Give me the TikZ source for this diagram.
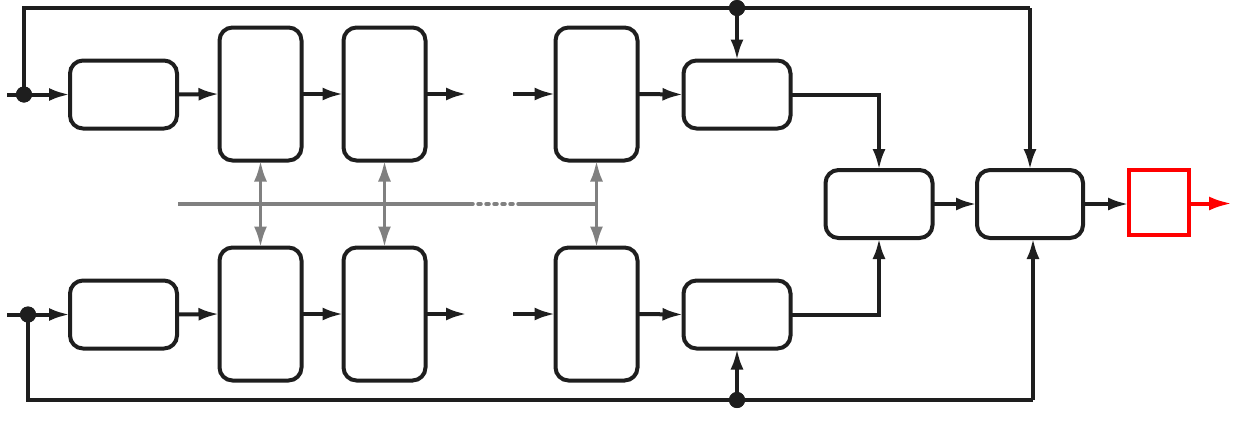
\documentclass[tikz,border=0pt]{standalone}
\usetikzlibrary{arrows.meta}
\definecolor{ink}{RGB}{30,30,30}
\definecolor{grayline}{RGB}{128,128,128}
\tikzset{
  bx/.style={draw=ink, line width=4pt, rounded corners=13pt, inner sep=0pt, outer sep=0pt, fill=white},
  shortbox/.style={bx, minimum width=107pt, minimum height=68pt},
  tallbox/.style={bx, minimum width=82pt, minimum height=133pt},
  redbox/.style={draw=red, line width=4pt, inner sep=0pt, outer sep=0pt, minimum width=60pt, minimum height=65pt},
  ln/.style={draw=ink, line width=4pt},
  arr/.style={ln, -{Latex[length=21pt,width=13pt]}},
  garr/.style={draw=grayline, line width=3.5pt, {Latex[length=21pt,width=13pt]}-{Latex[length=21pt,width=13pt]}},
  gln/.style={draw=grayline, line width=3.5pt},
  gdots/.style={draw=grayline, line width=3.5pt, line cap=round, dash pattern=on 3pt off 5pt},
  rarr/.style={draw=red, line width=4pt, -{Latex[length=23pt,width=14pt]}},
  jdot/.style={circle, fill=ink, inner sep=0pt, minimum size=16pt},
}
\begin{document}
\begin{tikzpicture}[x=1pt,y=-1pt]
\useasboundingbox (0,0) rectangle (1241,421);
% top row
\node[shortbox] (A1) at (123.5,94.5) {};
\node[tallbox]  (B1) at (260.5,94) {};
\node[tallbox]  (C1) at (384.5,94) {};
\node[tallbox]  (D1) at (596.5,94) {};
\node[shortbox] (E1) at (737,94.5) {};
% bottom row
\node[shortbox] (A2) at (123.5,314.5) {};
\node[tallbox]  (B2) at (260.5,314) {};
\node[tallbox]  (C2) at (384.5,314) {};
\node[tallbox]  (D2) at (596.5,314) {};
\node[shortbox] (E2) at (737,314.5) {};
% combiners
\node[shortbox] (F) at (879,204) {};
\node[shortbox, minimum width=106pt] (G) at (1030,204) {};
\node[redbox] (R) at (1159,202.5) {};
% coordinates
\coordinate (in1) at (7,94.5);
\coordinate (in2) at (7,314.5);
\coordinate (tl) at (24,8);
\coordinate (tr) at (1030,8);
\coordinate (bl) at (28,400);
\coordinate (br) at (1033,400);
\coordinate (c1o) at (467,94);
\coordinate (d1i) at (513,94);
\coordinate (c2o) at (467,314);
\coordinate (d2i) at (513,314);
\coordinate (out) at (1232,203.5);
\coordinate (gl) at (178,204);
\coordinate (g1) at (470,204);
\coordinate (g2) at (518,204);
\coordinate (gr) at (596.5,204);
% top chain
\draw[arr] (in1) -- (A1.west);
\draw[arr] (A1.east) -- (B1.west);
\draw[arr] (B1.east) -- (C1.west);
\draw[arr] (C1.east) -- (c1o);
\draw[arr] (d1i) -- (D1.west);
\draw[arr] (D1.east) -- (E1.west);
% bottom chain
\draw[arr] (in2) -- (A2.west);
\draw[arr] (A2.east) -- (B2.west);
\draw[arr] (B2.east) -- (C2.west);
\draw[arr] (C2.east) -- (c2o);
\draw[arr] (d2i) -- (D2.west);
\draw[arr] (D2.east) -- (E2.west);
% to combiners
\draw[arr] (E1.east) -| (F.north);
\draw[arr] (E2.east) -| (F.south);
\draw[arr] (F.east) -- (G.west);
\draw[arr] (G.east) -- (G.east -| R.west);
\draw[rarr] (R.east |- out) -- (out);
% feedback loops
\node[jdot] (dt1) at (24,94.5) {};
\node[jdot] (db1) at (28,314.5) {};
\node[jdot] (dt2) at (737,8) {};
\node[jdot] (db2) at (737,400) {};
\draw[ln] (dt1.center) -- (tl) -- (tr);
\draw[arr] (tr) -- (G.north);
\draw[arr] (dt2.center) -- (E1.north);
\draw[ln] (db1.center) -- (bl) -- (br);
\draw[arr] (br) -- (br |- G.south);
\draw[arr] (db2.center) -- (E2.south);
\node[jdot] at (dt1) {};
\node[jdot] at (db1) {};
\node[jdot] at (dt2) {};
\node[jdot] at (db2) {};
% gray bus
\draw[gln] (gl) -- (g1);
\draw[gdots] (g1) -- (g2);
\draw[gln] (g2) -- (gr);
\draw[garr] (B1.south) -- (B2.north);
\draw[garr] (C1.south) -- (C2.north);
\draw[garr] (D1.south) -- (D2.north);
\end{tikzpicture}
\end{document}
